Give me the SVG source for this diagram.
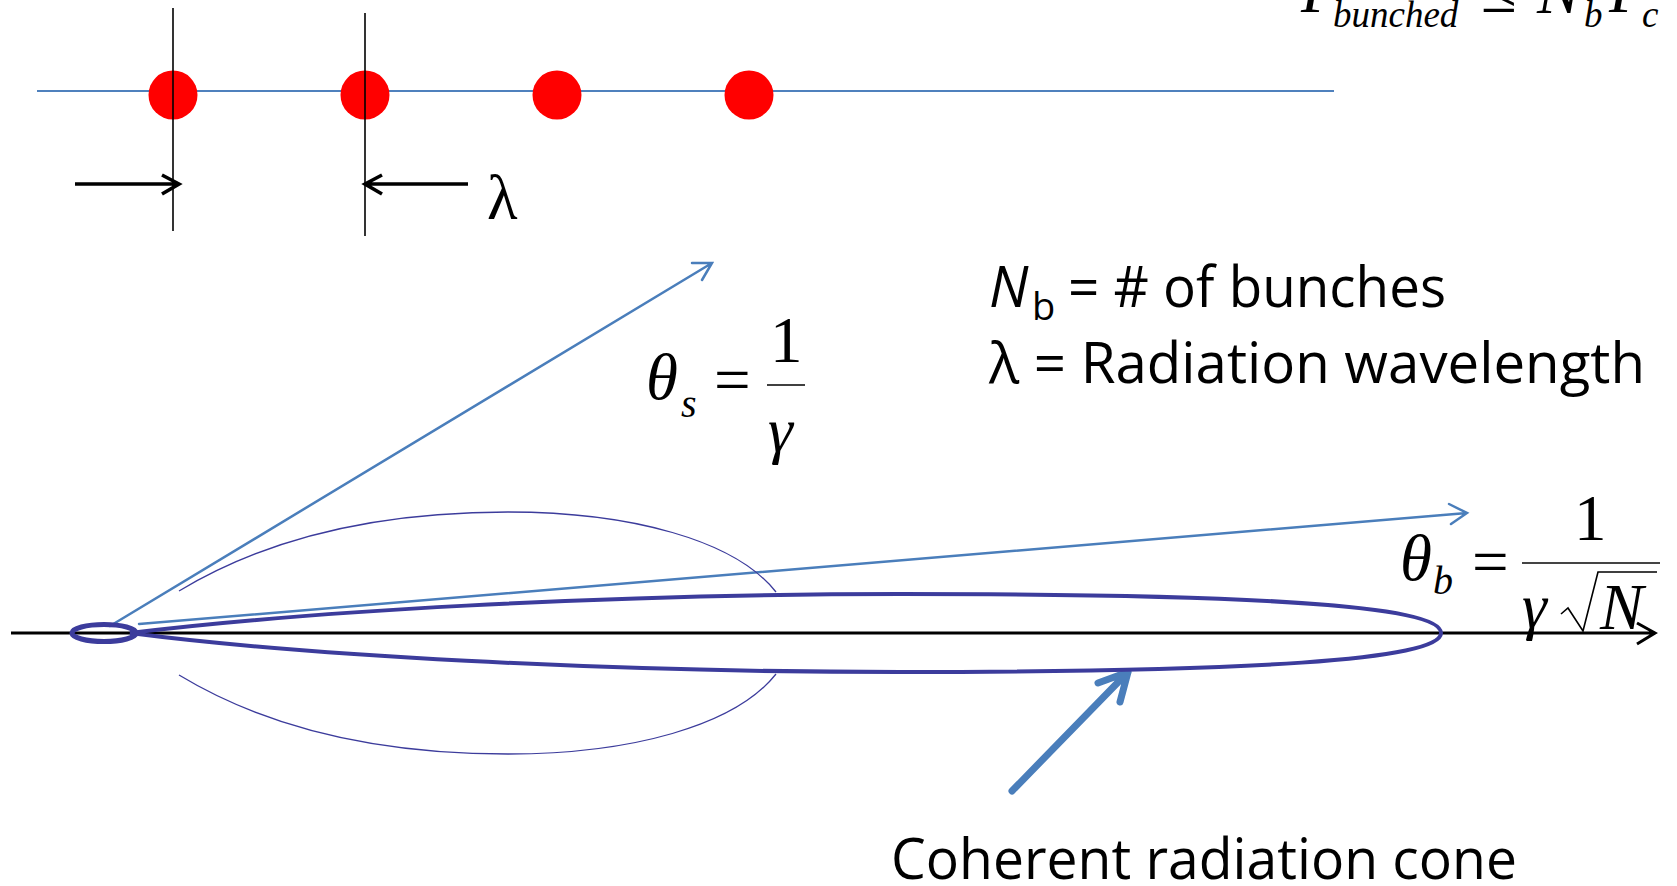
<svg xmlns="http://www.w3.org/2000/svg" width="1677" height="886" viewBox="0 0 1677 886">
<style>
.serif{font-family:"Liberation Serif","Times New Roman",serif;fill:#000}
.it{font-style:italic}
.sans{font-family:"Open Sans","Noto Sans",sans-serif;fill:#000}
.blk{stroke:#000;fill:none}
.ray{stroke:#4A7EBB;fill:none;stroke-width:2.5;stroke-linecap:round}
.lobe{stroke:#3C3C9C;fill:none}
</style>
<rect width="1677" height="886" fill="#fff"/>

<g id="beam">
  <line x1="37" y1="91" x2="1334" y2="91" stroke="#4F81BD" stroke-width="2.2"/>
  <circle cx="173" cy="95" r="24.5" fill="#FF0000"/>
  <circle cx="365" cy="95" r="24.5" fill="#FF0000"/>
  <circle cx="557" cy="95" r="24.5" fill="#FF0000"/>
  <circle cx="749" cy="95" r="24.5" fill="#FF0000"/>
  <line x1="173" y1="8" x2="173" y2="231" class="blk" stroke-width="1.6"/>
  <line x1="365" y1="13" x2="365" y2="236" class="blk" stroke-width="1.6"/>
</g>

<g id="wavelength-marker">
  <path d="M75,184 H179 M162,175 L179,184 L162,194" class="blk" stroke-width="3.6"/>
  <path d="M468,184 H365 M382,175 L365,184 L382,194" class="blk" stroke-width="3.6"/>
  <text x="487" y="219" class="serif" font-size="63">λ</text>
</g>

<g id="power-formula">
  <text x="1301" y="12" class="serif it" font-size="65">P</text>
  <text x="1333" y="27" class="serif it" font-size="37">bunched</text>
  <text x="1481" y="12" class="serif" font-size="65">≤</text>
  <text x="1537" y="13" class="serif it" font-size="65">N</text>
  <text x="1584" y="27" class="serif it" font-size="37">b</text>
  <text x="1609" y="12" class="serif it" font-size="65">P</text>
  <text x="1642" y="27" class="serif it" font-size="37">c</text>
</g>

<g id="legend">
  <text x="989" y="307" class="sans" font-size="56" font-style="italic">N</text>
  <text x="1032" y="320" class="sans" font-size="38">b</text>
  <text x="1068" y="307" class="sans" font-size="56" textLength="378" lengthAdjust="spacingAndGlyphs">= # of bunches</text>
  <text x="989" y="383" class="sans" font-size="56" textLength="656" lengthAdjust="spacingAndGlyphs">λ = Radiation wavelength</text>
</g>

<g id="connectors">
  <path d="M11,633 H1655 M1637,623 L1655,633 L1637,644" class="blk" stroke-width="3"/>
  <path d="M110,626 L712,263 M692,263 L712,263 L702,280" class="ray"/>
  <path d="M139,624 L1467,513 M1449,504 L1467,513 L1451,524" class="ray"/>
  <path d="M1012,791 L1128,672 M1098,683 L1128,672 L1120,702" stroke="#4A7EBB" stroke-width="7" fill="none" stroke-linecap="round" stroke-linejoin="round"/>
</g>

<g id="side-lobes">
  <path d="M179,591 C280,530 400,512 508,512 C630,512 735,540 776,592" class="lobe" stroke-width="1.3"/>
  <path d="M179,675 C280,736 400,754 508,754 C630,754 735,726 776,674" class="lobe" stroke-width="1.3"/>
</g>

<g id="coherent-cone">
  <path d="M130,633 C300,612 600,594 900,594 C1250,594 1441,605 1441,633 C1441,660 1250,672 900,672 C600,672 300,655 130,633 Z" class="lobe" stroke-width="4"/>
  <ellipse cx="104" cy="633" rx="32" ry="8.5" class="lobe" stroke-width="5"/>
</g>

<g id="theta-s">
  <text x="646" y="399" class="serif it" font-size="65">θ</text>
  <text x="681" y="417" class="serif it" font-size="40">s</text>
  <text x="714" y="402" class="serif" font-size="65">=</text>
  <text x="770" y="362" class="serif" font-size="65">1</text>
  <line x1="767" y1="385" x2="805" y2="385" stroke="#000" stroke-width="1.6"/>
  <text x="768" y="451" class="serif it" font-size="63">γ</text>
</g>

<g id="theta-b">
  <text x="1400" y="580" class="serif it" font-size="65">θ</text>
  <text x="1433" y="594" class="serif it" font-size="40">b</text>
  <text x="1472" y="584" class="serif" font-size="65">=</text>
  <text x="1574" y="540" class="serif" font-size="65">1</text>
  <line x1="1522" y1="563" x2="1660" y2="563" stroke="#444" stroke-width="2"/>
  <text x="1522" y="627" class="serif it" font-size="63">γ</text>
  <path d="M1561,614 L1568,608 L1583,631 L1598,572 L1657,572" stroke="#000" stroke-width="1.6" fill="none"/>
  <text x="1600" y="629" class="serif it" font-size="65">N</text>
</g>

<g id="cone-label">
  <text x="891" y="879" class="sans" font-size="56" textLength="626" lengthAdjust="spacingAndGlyphs">Coherent radiation cone</text>
</g>
</svg>
